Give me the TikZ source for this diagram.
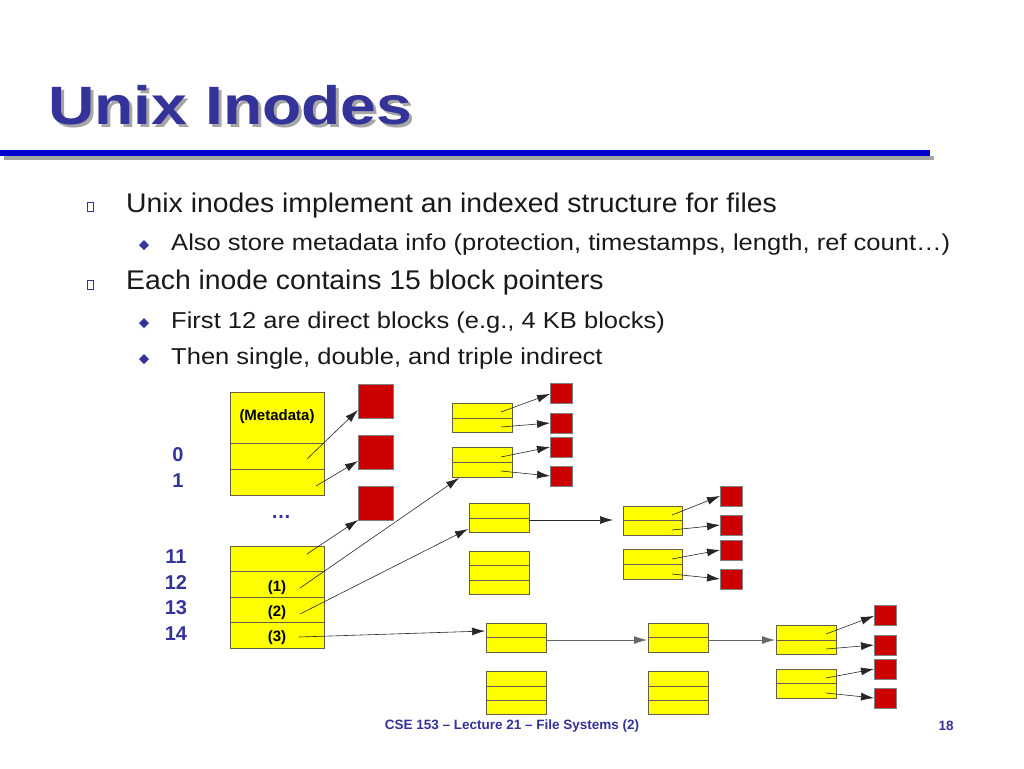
\documentclass[tikz,border=0pt]{standalone}
\usepackage{fontspec}
\setmainfont{Liberation Sans}
\usetikzlibrary{arrows.meta}
\definecolor{tblue}{HTML}{333399}
\definecolor{rblue}{HTML}{0000CC}
\definecolor{yel}{HTML}{FFFF00}
\definecolor{red1}{HTML}{CC0000}
\begin{document}
\begin{tikzpicture}[x=1pt,y=-1pt,
  cell/.style={draw=black!70!yellow,fill=yel,line width=0.8pt},
  blk/.style={draw=black!50,fill=red1,line width=0.6pt},
  ptr/.style={-{Latex[length=13pt,width=8pt]},line width=0.6pt,black!85},
  gptr/.style={-{Latex[length=13pt,width=8pt]},line width=0.8pt,black!60},
  txt/.style={anchor=base west,inner sep=0pt,font=\fontsize{27}{30}\selectfont,text=black!90,xscale=1.05},
  stxt/.style={anchor=base west,inner sep=0pt,font=\fontsize{23}{26}\selectfont,text=black!90,xscale=1.11},
  num/.style={inner sep=0pt,font=\bfseries\fontsize{20}{24}\selectfont,text=tblue},
  lab/.style={inner sep=0pt,font=\bfseries\fontsize{15}{17}\selectfont}]
\useasboundingbox (0,0) rectangle (1024,768);
% title
\node[anchor=base west,inner sep=0pt,text=black!35,font=\bfseries\fontsize{54}{60}\selectfont,xscale=1.19] (tsh) at (51,127) {Unix Inodes};
\node[anchor=base west,inner sep=0pt,text=tblue,font=\bfseries\fontsize{54}{60}\selectfont,xscale=1.19] (title) at (48,124) {Unix Inodes};
\fill[black!35] (4,156) rectangle (934,160);
\fill[rblue] (0,150) rectangle (930,156);
% bullets
\foreach \y in {207,285}{\draw[tblue,line width=0.5pt] (87,\y-5) rectangle (93,\y+4);}
\foreach \y in {245,323,359}{\fill[tblue] (144,\y-5) -- (149,\y) -- (144,\y+5) -- (139,\y) -- cycle;}
\node[txt] (t1) at (126,212) {Unix inodes implement an indexed structure for files};
\node[stxt] (t2) at (171,250) {Also store metadata info (protection, timestamps, length, ref count…)};
\node[txt] (t3) at (126,289) {Each inode contains 15 block pointers};
\node[stxt] (t4) at (171,328) {First 12 are direct blocks (e.g., 4 KB blocks)};
\node[stxt] (t5) at (171,364) {Then single, double, and triple indirect};
% inode
\draw[cell] (230,392) rectangle (324,495);
\draw[cell] (230,443) -- (324,443) (230,469) -- (324,469);
\draw[cell] (230,546) rectangle (324,648);
\draw[cell] (230,571) -- (324,571) (230,597) -- (324,597) (230,622) -- (324,622);
\node[lab] (meta) at (277,417) {(Metadata)};
\node[num] (n0) at (178,455) {0};
\node[num] (n1) at (178,481) {1};
\node[num] (dots) at (281,517) {…};
\node[num] (n11) at (176,557) {11};
\node[num] (n12) at (176,583) {12};
\node[num] (n13) at (176,608) {13};
\node[num] (n14) at (176,634) {14};
\node[lab] (p1) at (277,588) {(1)};
\node[lab] (p2) at (277,613) {(2)};
\node[lab] (p3) at (277,638) {(3)};
% direct blocks
\draw[blk] (358,384) rectangle (393,418);
\draw[blk] (358,435) rectangle (393,469);
\draw[blk] (358,486) rectangle (393,520);
\draw[ptr] (307,459) -- (358,410);
\draw[ptr] (316,486) -- (358,461);
\draw[ptr] (307,554) -- (358,520);
% single indirect
\draw[cell] (452,403) rectangle (512,432); \draw[cell] (452,418) -- (512,418);
\draw[cell] (452,447) rectangle (512,477); \draw[cell] (452,462) -- (512,462);
\foreach \y in {383,413,437,466}{\draw[blk] (550,\y) rectangle (572,\y+20);}
\draw[ptr] (501,412) -- (550,394);
\draw[ptr] (501,427) -- (550,423);
\draw[ptr] (501,457) -- (550,447);
\draw[ptr] (501,471) -- (550,476);
\draw[ptr] (300,588) -- (459,478);
% double indirect
\draw[cell] (469,503) rectangle (529,532); \draw[cell] (469,518) -- (529,518);
\draw[cell] (469,551) rectangle (529,594); \draw[cell] (469,565) -- (529,565) (469,580) -- (529,580);
\draw[ptr] (300,614) -- (468,529);
\draw[ptr] (529,520) -- (613,520);
\draw[cell] (623,506) rectangle (682,535); \draw[cell] (623,520) -- (682,520);
\draw[cell] (623,549) rectangle (682,579); \draw[cell] (623,564) -- (682,564);
\foreach \y in {486,515,540,569}{\draw[blk] (720,\y) rectangle (742,\y+20);}
\draw[ptr] (672,515) -- (720,496);
\draw[ptr] (672,530) -- (720,525);
\draw[ptr] (672,559) -- (720,550);
\draw[ptr] (672,574) -- (720,579);
% triple indirect
\draw[ptr] (299,637) -- (485,631);
\draw[cell] (486,623) rectangle (546,652); \draw[cell] (486,637) -- (546,637);
\draw[cell] (486,671) rectangle (546,714); \draw[cell] (486,686) -- (546,686) (486,700) -- (546,700);
\draw[gptr] (546,640) -- (647,640);
\draw[cell] (648,623) rectangle (708,652); \draw[cell] (648,637) -- (708,637);
\draw[cell] (648,671) rectangle (708,714); \draw[cell] (648,686) -- (708,686) (648,700) -- (708,700);
\draw[gptr] (708,640) -- (775,640);
\draw[cell] (776,625) rectangle (836,654); \draw[cell] (776,640) -- (836,640);
\draw[cell] (776,669) rectangle (836,698); \draw[cell] (776,683) -- (836,683);
\foreach \y in {605,635,659,688}{\draw[blk] (874,\y) rectangle (896,\y+20);}
\draw[ptr] (826,634) -- (874,616);
\draw[ptr] (826,649) -- (874,645);
\draw[ptr] (826,678) -- (874,669);
\draw[ptr] (826,693) -- (874,698);
% footer
\node[inner sep=0pt,font=\bfseries\fontsize{13.5}{16}\selectfont,text=tblue] (foot) at (512,726) {CSE 153 – Lecture 21 – File Systems (2)};
\node[inner sep=0pt,font=\bfseries\fontsize{13.5}{16}\selectfont,text=tblue] (pg) at (946,726) {18};
\end{tikzpicture}
\end{document}
